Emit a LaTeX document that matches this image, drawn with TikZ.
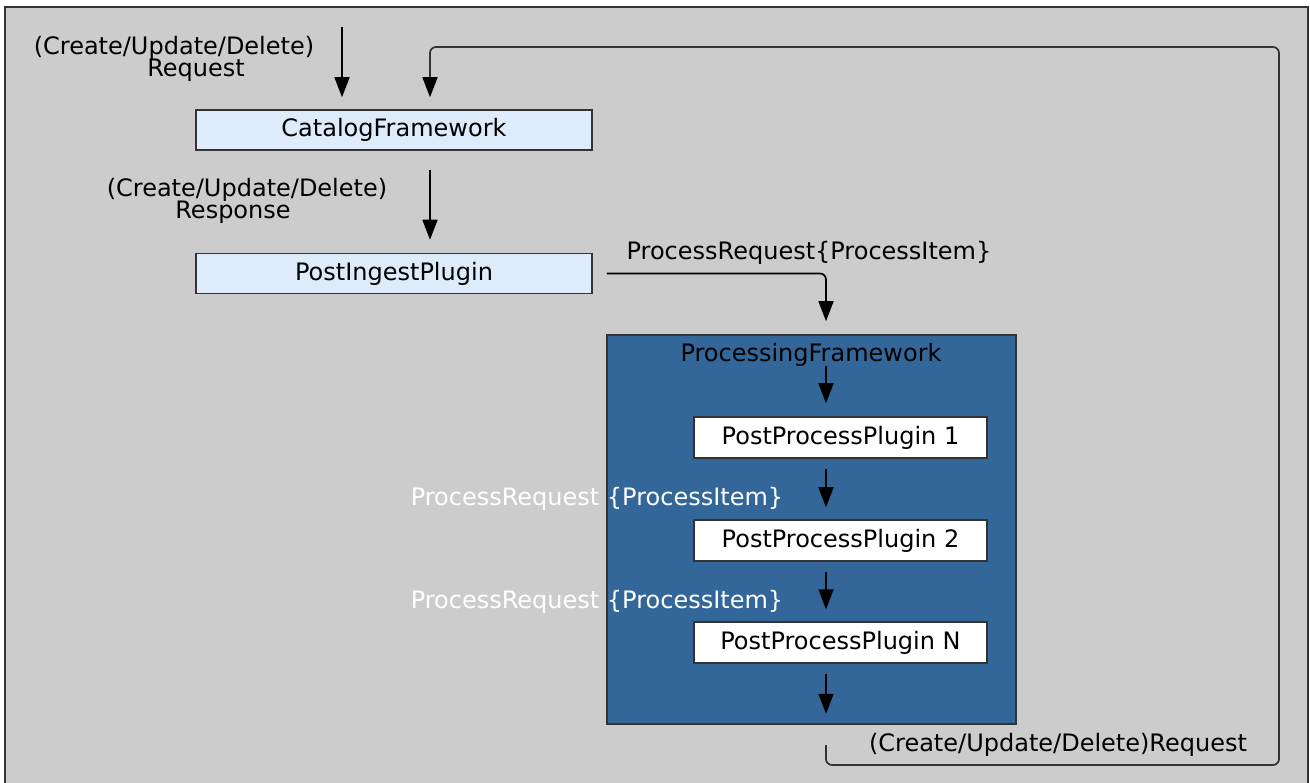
\documentclass[tikz,border=0pt]{standalone}
\usepackage{fontspec}
\setmainfont{DejaVu Sans}
\usetikzlibrary{arrows.meta}
\definecolor{bggray}{HTML}{CCCCCC}
\definecolor{pfblue}{HTML}{336699}
\definecolor{lightbox}{HTML}{DDEBFB}
\definecolor{edgecol}{HTML}{333333}
\begin{document}
\begin{tikzpicture}[x=1pt,y=-1pt,
  txt/.style={font=\fontsize{24}{24}\selectfont, inner sep=0pt, anchor=base},
  box/.style={draw=edgecol, line width=1.5pt, rectangle, inner sep=0pt, font=\fontsize{24}{24}\selectfont},
  catbox/.style={box, fill=lightbox, minimum width=396pt, minimum height=40pt},
  plugbox/.style={box, fill=white, minimum width=293pt, minimum height=41pt},
  conn/.style={draw=black, line width=1.7pt, -{Triangle[length=20pt,width=15pt]}}
]
\useasboundingbox (0,0) rectangle (1310,783);
\clip (0,0) rectangle (1310,783);
\fill[white] (0,0) rectangle (1310,783);
\draw[fill=bggray, draw=edgecol, line width=2pt] (5,7) rectangle (1308,800);

% boxes
\node[catbox] (cat) at (394,130) {CatalogFramework};
\node[catbox] (pip) at (394,273.5) {PostIngestPlugin};
\node[draw=edgecol, line width=1.5pt, fill=pfblue, minimum width=409pt, minimum height=389pt, inner sep=0pt] (pf) at (811.5,529.5) {};
\node[txt] (pflabel) at (811,362) {ProcessingFramework};
\node[plugbox] (pp1) at (840.5,437.5) {PostProcessPlugin 1};
\node[plugbox] (pp2) at (840.5,540.5) {PostProcessPlugin 2};
\node[plugbox] (ppn) at (840.5,642.5) {PostProcessPlugin N};

% labels
\node[txt] (reqA) at (174,55) {(Create/Update/Delete)};
\node[txt] (reqB) at (196,77) {Request};
\node[txt] (resA) at (247,197) {(Create/Update/Delete)};
\node[txt] (resB) at (233,219) {Response};
\node[txt] (prlbl) at (809,260) {ProcessRequest\{ProcessItem\}};
\node[txt, text=white] (wlbl1) at (597,506) {ProcessRequest \{ProcessItem\}};
\node[txt, text=white] (wlbl2) at (597,608) {ProcessRequest \{ProcessItem\}};
\node[txt] (botlbl) at (1058,751) {(Create/Update/Delete)Request};

% coordinates
\coordinate (inA) at (342,27);
\coordinate (resS) at (430,170);
\coordinate (retS) at (826,745);
\coordinate (retC1) at (1279,765);
\coordinate (retC2) at (430,47);
\coordinate (pfS) at (826,366);

% connectors
\draw[conn, shorten >=12pt] (inA) -- (inA |- cat.north);
\draw[conn, rounded corners=6pt, draw=edgecol, -{Triangle[length=20pt,width=15pt,fill=black,color=black]}, shorten >=12pt] (retS) |- (retC1) |- (retC2) -- (retC2 |- cat.north);
\draw[conn, shorten >=13pt] (resS) -- (resS |- pip.north);
\draw[conn, rounded corners=6pt, shorten <=14pt, shorten >=13pt] (pip.east) -| (pfS |- pf.north);
\draw[conn, shorten >=13pt] (pfS) -- (pfS |- pp1.north);
\draw[conn, shorten <=10pt, shorten >=12pt] (pfS |- pp1.south) -- (pfS |- pp2.north);
\draw[conn, shorten <=10pt, shorten >=12pt] (pfS |- pp2.south) -- (pfS |- ppn.north);
\draw[conn, shorten <=10pt, shorten >=11pt] (pfS |- ppn.south) -- (pfS |- pf.south);
\end{tikzpicture}
\end{document}
